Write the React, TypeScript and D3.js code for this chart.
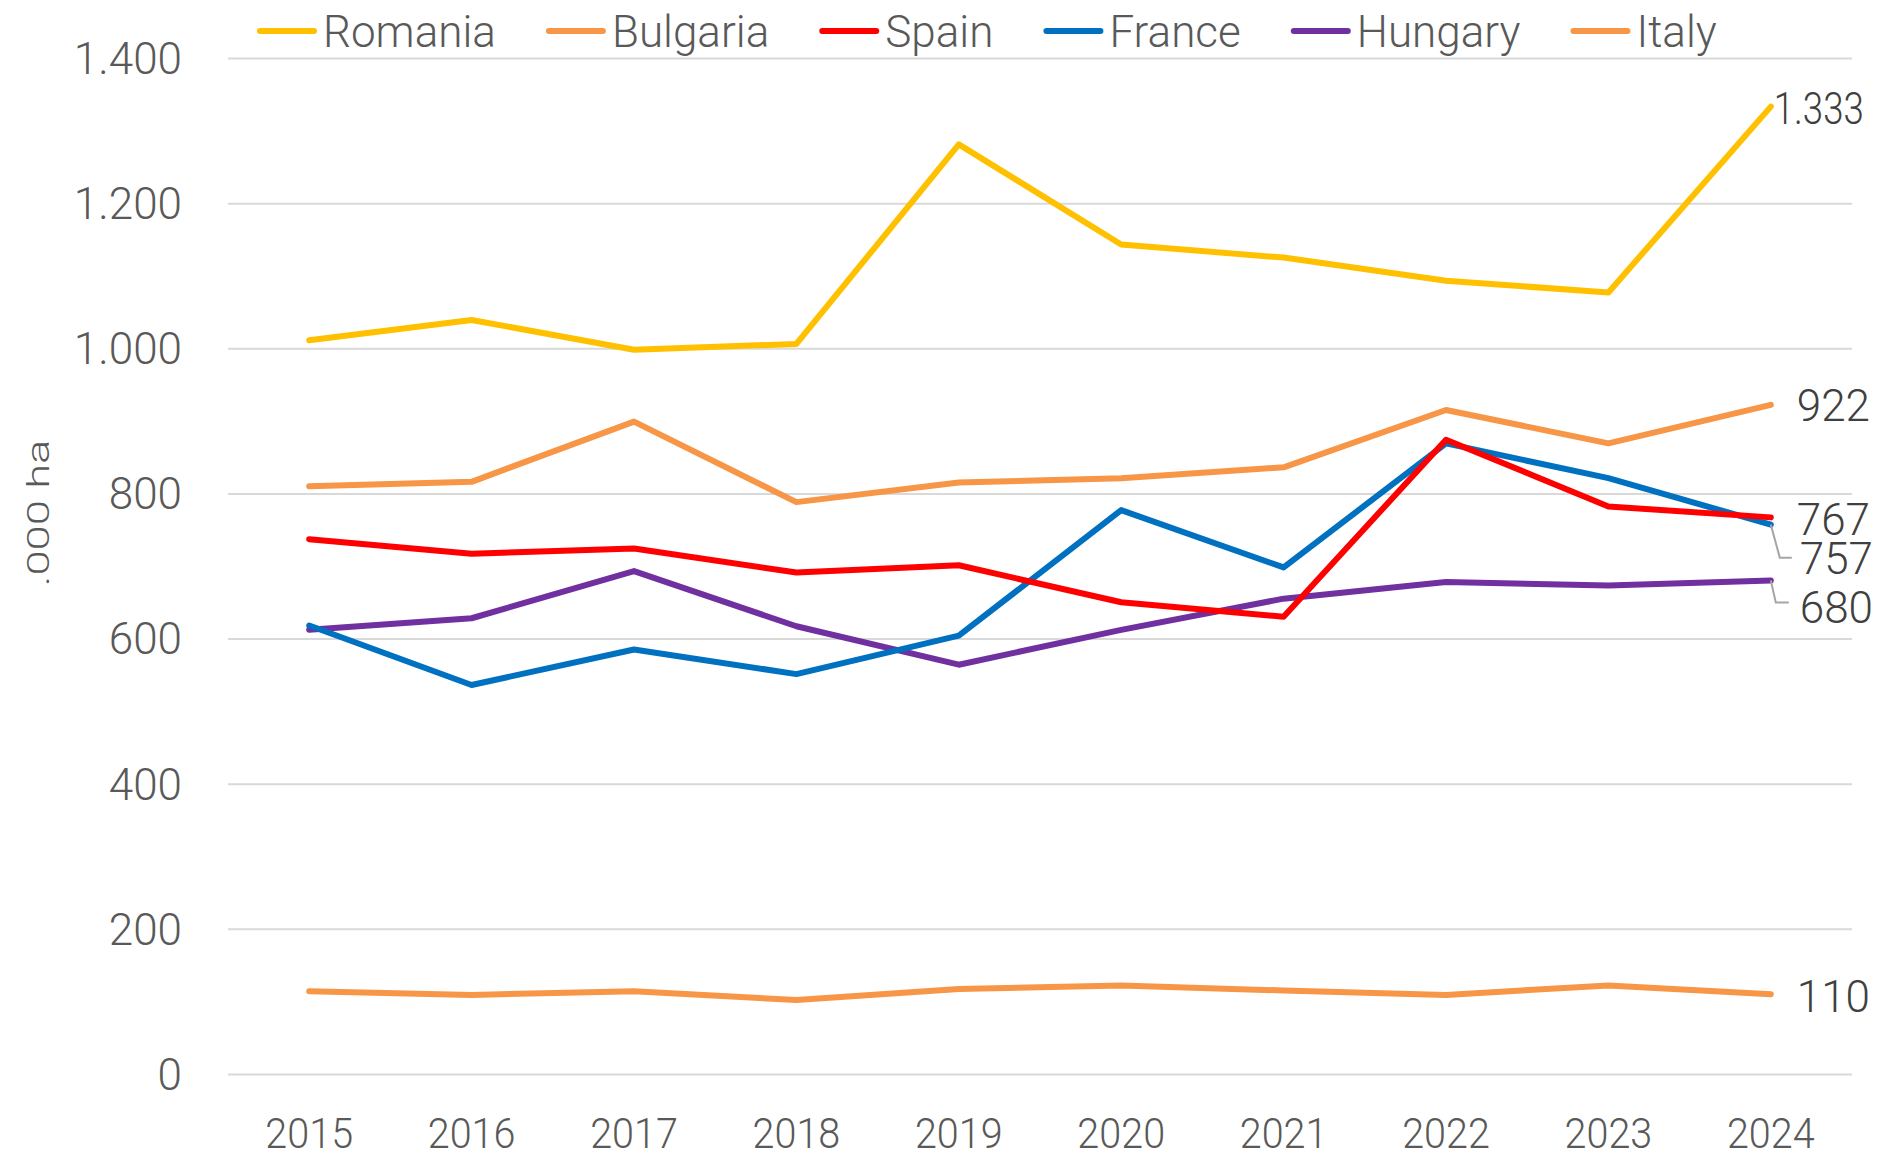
import React, { useEffect, useRef } from 'react';
import * as d3 from 'd3';

const years = ['2015', '2016', '2017', '2018', '2019', '2020', '2021', '2022', '2023', '2024'];
const romania = [1011, 1039, 998, 1006, 1281, 1143, 1125, 1093, 1077, 1333];
const bulgaria = [810, 816, 899, 788, 815, 821, 836, 915, 869, 922];
const spain = [737, 717, 724, 691, 701, 650, 630, 874, 782, 767];
const france = [618, 536, 585, 551, 604, 777, 698, 869, 821, 757];
const hungary = [612, 628, 693, 617, 564, 612, 655, 678, 673, 680];
const italy = [114, 109, 114, 102, 117, 122, 115, 109, 122, 110];

const seriesNames = ['Romania', 'Bulgaria', 'Spain', 'France', 'Hungary', 'Italy'];
const seriesValues = [romania, bulgaria, spain, france, hungary, italy];
const seriesColors = ['#FFC000', '#F79646', '#FF0000', '#0070C0', '#7030A0', '#F79646'];
const yTicks = [0, 200, 400, 600, 800, 1000, 1200, 1400];
const yTitle = '.000 ha';

const W = 1877;
const H = 1158;
const margin = { top: 58, right: 25, bottom: 84, left: 228 };
const FONT = 'Roboto, "Noto Sans", sans-serif';
const WEIGHT = 300;

// where the end-of-line value sits relative to the last point, plus optional leader line
const endLabelLayout = [
  { dx: 3, dy: 2, leader: null, len: 90 },
  { dx: 26, dy: 0, leader: null, len: 0 },
  { dx: 26, dy: 2, leader: null, len: 0 },
  { dx: 29, dy: 34, leader: [[0, 0], [9, 33], [21, 33]], len: 0 },
  { dx: 29, dy: 27, leader: [[0, 0], [5, 22], [18, 22]], len: 0 },
  { dx: 26, dy: 2, leader: null, len: 0 },
];

const locale = d3.formatLocale({ decimal: ',', thousands: '.', grouping: [3], currency: ['', ''] });
const fmt = locale.format(',d');

export default function App() {
  const ref = useRef<SVGSVGElement>(null);

  useEffect(() => {
    const svg = d3.select(ref.current);
    svg.selectAll('*').remove();

    const x = d3.scalePoint<string>()
      .domain(years)
      .range([margin.left, W - margin.right])
      .padding(0.5);

    const y = d3.scaleLinear()
      .domain([0, 1400])
      .range([H - margin.bottom, margin.top]);

    // gridlines
    svg.append('g')
      .attr('transform', `translate(${margin.left},0)`)
      .call(d3.axisLeft(y).tickValues(yTicks).tickSize(-(W - margin.left - margin.right)).tickFormat(() => ''))
      .call(g => g.select('.domain').remove())
      .call(g => g.selectAll('line').attr('stroke', '#d9d9d9').attr('stroke-width', 2));

    // y tick labels
    svg.append('g')
      .selectAll('text')
      .data(yTicks)
      .join('text')
      .attr('x', 182)
      .attr('y', d => y(d))
      .attr('dy', '0.36em')
      .attr('text-anchor', 'end')
      .attr('font-family', FONT)
      .attr('font-weight', WEIGHT)
      .attr('font-size', 44)
      .attr('fill', '#595959')
      .text(d => fmt(d));

    // x tick labels, a bit condensed like the source font
    svg.append('g')
      .selectAll('text')
      .data(years)
      .join('text')
      .attr('transform', d => `translate(${x(d)},1148) scale(0.92,1)`)
      .attr('text-anchor', 'middle')
      .attr('font-family', FONT)
      .attr('font-weight', WEIGHT)
      .attr('font-size', 43)
      .attr('fill', '#595959')
      .text(d => d);

    // y title
    svg.append('text')
      .attr('transform', `translate(49,513) rotate(-90)`)
      .attr('text-anchor', 'middle')
      .attr('font-family', FONT)
      .attr('font-weight', WEIGHT)
      .attr('font-size', 32)
      .attr('fill', '#595959')
      .attr('textLength', 147)
      .attr('lengthAdjust', 'spacingAndGlyphs')
      .text(yTitle);

    const lineGen = d3.line<number>()
      .x((_, i) => x(years[i])!)
      .y(d => y(d));

    // Italy first, Romania last so it sits on top
    const order = [5, 4, 3, 2, 1, 0];
    svg.append('g')
      .selectAll('path')
      .data(order)
      .join('path')
      .attr('fill', 'none')
      .attr('stroke', i => seriesColors[i])
      .attr('stroke-width', 6)
      .attr('stroke-linecap', 'round')
      .attr('stroke-linejoin', 'round')
      .attr('d', i => lineGen(seriesValues[i]));

    // end labels
    const last = years.length - 1;
    const labels = svg.append('g');
    seriesValues.forEach((vals, i) => {
      const px = x(years[last])!;
      const py = y(vals[last]);
      const lay = endLabelLayout[i];
      if (lay.leader) {
        labels.append('path')
          .attr('fill', 'none')
          .attr('stroke', '#a6a6a6')
          .attr('stroke-width', 2)
          .attr('d', d3.line()(lay.leader.map(p => [px + p[0], py + p[1]] as [number, number])));
      }
      const t = labels.append('text')
        .attr('x', px + lay.dx)
        .attr('y', py + lay.dy)
        .attr('dy', '0.36em')
        .attr('font-family', FONT)
        .attr('font-weight', WEIGHT)
        .attr('font-size', 44)
        .attr('fill', '#404040')
        .text(fmt(vals[last]));
      if (lay.len) t.attr('textLength', lay.len).attr('lengthAdjust', 'spacingAndGlyphs');
    });

    // legend
    const legend = svg.append('g');
    let lx = 257;
    seriesNames.forEach((name, i) => {
      legend.append('line')
        .attr('x1', lx + 3).attr('x2', lx + 57)
        .attr('y1', 31).attr('y2', 31)
        .attr('stroke', seriesColors[i])
        .attr('stroke-width', 6)
        .attr('stroke-linecap', 'round');
      const t = legend.append('text')
        .attr('x', lx + 66)
        .attr('y', 31)
        .attr('dy', '0.36em')
        .attr('font-family', FONT)
        .attr('font-weight', WEIGHT)
        .attr('font-size', 44)
        .attr('fill', '#595959')
        .text(name);
      const w = (t.node() as SVGTextElement).getComputedTextLength();
      lx += 66 + w + 50;
    });
  }, []);

  return (
    <svg ref={ref} width={W} height={H} style={{ position: 'absolute', left: 0, top: 0, background: '#fff' }} />
  );
}
